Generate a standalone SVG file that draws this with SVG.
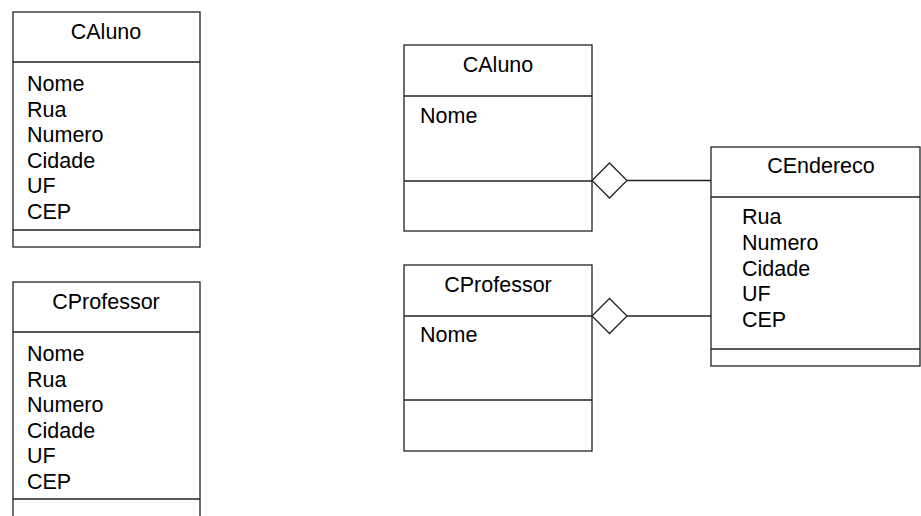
<svg xmlns="http://www.w3.org/2000/svg" width="921" height="516" viewBox="0 0 921 516">
<style>
  .box { fill: #ffffff; stroke: #222222; stroke-width: 1.3; }
  .div { stroke: #222222; stroke-width: 1.3; fill: none; }
  .t { font-family: "Liberation Sans", Arial, sans-serif; font-size: 21.5px; fill: #000000; }
  .title { text-anchor: middle; }
  .conn { stroke: #222222; stroke-width: 1.3; fill: none; }
  .diamond { fill: #ffffff; stroke: #222222; stroke-width: 1.3; }
</style>
<rect width="921" height="516" fill="#ffffff"/>

<g id="caluno-left">
  <rect class="box" x="13" y="12" width="187" height="235"/>
  <line class="div" x1="13" y1="62" x2="200" y2="62"/>
  <line class="div" x1="13" y1="230" x2="200" y2="230"/>
  <text class="t title" x="106" y="39">CAluno</text>
  <text class="t" x="27" y="91">Nome</text>
  <text class="t" x="27" y="116.6">Rua</text>
  <text class="t" x="27" y="142.2">Numero</text>
  <text class="t" x="27" y="167.8">Cidade</text>
  <text class="t" x="27" y="193.4">UF</text>
  <text class="t" x="27" y="219">CEP</text>
</g>

<g id="cprofessor-left">
  <rect class="box" x="13" y="282" width="187" height="250"/>
  <line class="div" x1="13" y1="332" x2="200" y2="332"/>
  <line class="div" x1="13" y1="499" x2="200" y2="499"/>
  <text class="t title" x="106" y="309">CProfessor</text>
  <text class="t" x="27" y="361">Nome</text>
  <text class="t" x="27" y="386.6">Rua</text>
  <text class="t" x="27" y="412.2">Numero</text>
  <text class="t" x="27" y="437.8">Cidade</text>
  <text class="t" x="27" y="463.4">UF</text>
  <text class="t" x="27" y="489">CEP</text>
</g>

<g id="caluno">
  <rect class="box" x="404" y="45" width="188" height="186"/>
  <line class="div" x1="404" y1="96" x2="592" y2="96"/>
  <line class="div" x1="404" y1="181" x2="592" y2="181"/>
  <text class="t title" x="498" y="72">CAluno</text>
  <text class="t" x="420" y="123">Nome</text>
</g>

<g id="cprofessor">
  <rect class="box" x="404" y="265" width="188" height="186"/>
  <line class="div" x1="404" y1="316" x2="592" y2="316"/>
  <line class="div" x1="404" y1="400" x2="592" y2="400"/>
  <text class="t title" x="498" y="292">CProfessor</text>
  <text class="t" x="420" y="342">Nome</text>
</g>

<g id="cendereco">
  <rect class="box" x="711" y="147" width="209" height="219"/>
  <line class="div" x1="711" y1="197" x2="920" y2="197"/>
  <line class="div" x1="711" y1="349" x2="920" y2="349"/>
  <text class="t title" x="821" y="173">CEndereco</text>
  <text class="t" x="742" y="224">Rua</text>
  <text class="t" x="742" y="249.8">Numero</text>
  <text class="t" x="742" y="275.5">Cidade</text>
  <text class="t" x="742" y="301.2">UF</text>
  <text class="t" x="742" y="327">CEP</text>
</g>

<g id="connectors">
  <line class="conn" x1="627" y1="180.5" x2="711" y2="180.5"/>
  <polygon class="diamond" points="592,180.5 609.5,163 627,180.5 609.5,198"/>
  <line class="conn" x1="627" y1="316" x2="711" y2="316"/>
  <polygon class="diamond" points="592,316 609.5,298.5 627,316 609.5,333.5"/>
</g>
</svg>
